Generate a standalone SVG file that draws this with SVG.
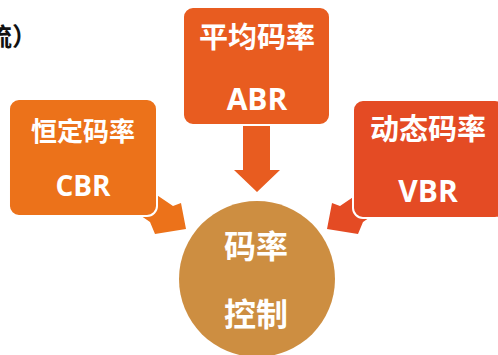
<svg xmlns="http://www.w3.org/2000/svg" width="498" height="355" viewBox="0 0 498 355">
<style>
.cjk{font-family:"Noto Sans CJK SC",sans-serif;font-weight:bold;fill:#fff;text-anchor:middle}
.lat{font-family:"Open Sans","Liberation Sans",sans-serif;font-weight:bold;fill:#fff;text-anchor:middle}
.box{stroke:#fff;stroke-width:2}
</style>
<rect width="498" height="355" fill="#fff"/>
<text x="-13" y="46" font-family="Noto Sans CJK SC, sans-serif" font-weight="bold" font-size="25" fill="#111">流）</text>
<g id="connectors">
<polygon points="145,187 173,206 181,203 186,229 155,234 150,222 128,207" fill="#EC721A"/>
<polygon points="368,187 340,206 332,203 327,229 358,234 363,222 385,207" fill="#E44B24"/>
<polygon points="243,126 270,126 270,170 280,170 257,192 234,170 243,170" fill="#E85C20"/>
</g>
<g id="cbr">
<rect class="box" x="9" y="99" width="148" height="117" rx="10" fill="#EC721A"/>
<text class="cjk" x="83" y="141" font-size="26">恒定码率</text>
<text class="lat" x="83" y="196" font-size="28">CBR</text>
</g>
<g id="abr">
<rect class="box" x="183" y="7" width="147" height="118" rx="10" fill="#E85C20"/>
<text class="cjk" x="257" y="48" font-size="29">平均码率</text>
<text class="lat" x="257" y="110" font-size="30">ABR</text>
</g>
<g id="vbr">
<rect class="box" x="353" y="100" width="152" height="118" rx="10" fill="#E44B24"/>
<text class="cjk" x="428" y="140" font-size="29">动态码率</text>
<text class="lat" x="428" y="202" font-size="30">VBR</text>
</g>
<g id="control">
<circle cx="257" cy="279" r="78" fill="#CD8E41"/>
<text class="cjk" x="256" y="258" font-size="32">码率</text>
<text class="cjk" x="256" y="326" font-size="32">控制</text>
</g>
</svg>
